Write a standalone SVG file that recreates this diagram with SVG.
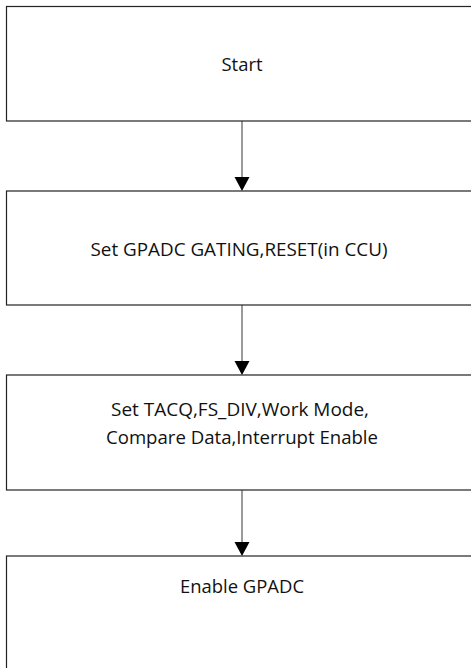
<svg xmlns="http://www.w3.org/2000/svg" width="471" height="668" viewBox="0 0 471 668">
<style>
.box{fill:#fff;stroke:#222;stroke-width:1.2}
.lbl{font-family:"Open Sans","Noto Sans",sans-serif;font-size:18px;fill:#111;text-anchor:middle}
.conn{stroke:#707070;stroke-width:1.4;fill:none}
.head{fill:#000}
</style>
<rect width="471" height="668" fill="#fff"/>
<g id="connectors">
<line class="conn" x1="242" y1="121" x2="242" y2="178"/>
<path class="head" d="M234.5,177 L249.5,177 L242,191 Z"/>
<line class="conn" x1="242" y1="305" x2="242" y2="362"/>
<path class="head" d="M234.5,361 L249.5,361 L242,375 Z"/>
<line class="conn" x1="242" y1="490" x2="242" y2="543"/>
<path class="head" d="M234.5,542 L249.5,542 L242,556 Z"/>
</g>
<g id="node-start">
<rect class="box" x="6.5" y="6.5" width="480" height="114.5"/>
<text class="lbl" x="242" y="71" textLength="41" lengthAdjust="spacingAndGlyphs">Start</text>
</g>
<g id="node-gating">
<rect class="box" x="6.5" y="191" width="480" height="114"/>
<text class="lbl" x="239" y="256" textLength="297" lengthAdjust="spacingAndGlyphs">Set GPADC GATING,RESET(in CCU)</text>
</g>
<g id="node-config">
<rect class="box" x="6.5" y="375" width="480" height="115"/>
<text class="lbl" x="240" y="416" textLength="258" lengthAdjust="spacingAndGlyphs">Set TACQ,FS_DIV,Work Mode,</text>
<text class="lbl" x="242" y="444" textLength="272" lengthAdjust="spacingAndGlyphs">Compare Data,Interrupt Enable</text>
</g>
<g id="node-enable">
<rect class="box" x="6.5" y="556" width="480" height="130"/>
<text class="lbl" x="242" y="593" textLength="124" lengthAdjust="spacingAndGlyphs">Enable GPADC</text>
</g>
</svg>
